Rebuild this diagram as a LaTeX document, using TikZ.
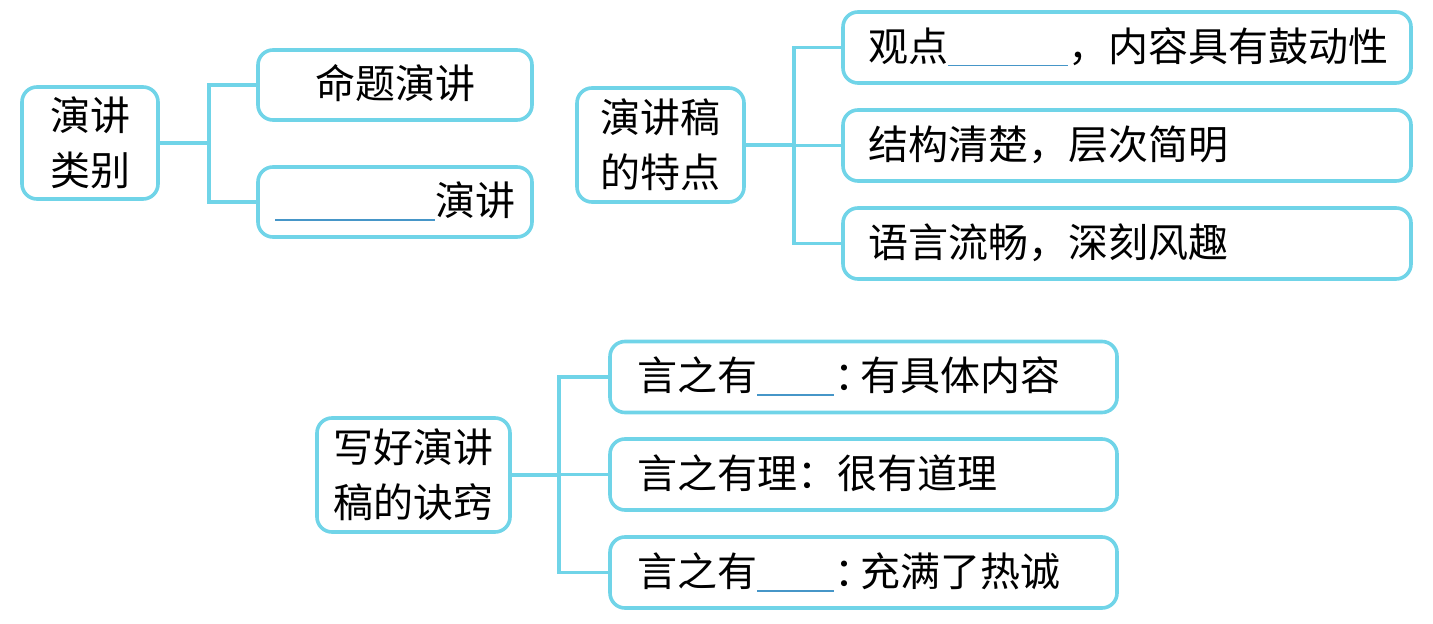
\documentclass[tikz,border=0pt]{standalone}
\usepackage{fontspec}
\newfontfamily\cjk{Noto Sans CJK SC}
\definecolor{boxcyan}{RGB}{112,212,232}
\definecolor{blankblue}{RGB}{70,150,200}
\newcommand{\blank}[1]{\raisebox{-2.5pt}{\textcolor{blankblue}{\rule{#1}{0.9pt}}}}
\newcommand{\halfcolon}{\makebox[13pt][l]{：}}
\begin{document}
\begin{tikzpicture}[x=0.5pt, y=-0.5pt,
    font=\cjk\fontsize{20pt}{27.5pt}\selectfont,
    box/.style={draw=boxcyan, line width=1.8pt, rounded corners=7.5pt},
    root/.style={box, align=center, inner sep=0pt},
    mid/.style={box, align=center, inner sep=0pt, minimum width=137pt, minimum height=35pt,
        text height=16pt, text depth=2pt},
    leaf/.style={box, align=left, inner xsep=#1, inner ysep=0pt, minimum height=35.5pt,
        text height=16pt, text depth=2pt},
    branch/.style={draw=boxcyan, line width=1.8pt}]
    \useasboundingbox (0,0) rectangle (1433,624);
    % 演讲类别
    \node[root, minimum width=68pt, minimum height=56pt] (a) at (90,143) {演讲\\类别};
    \node[mid] (b1) at (395,85) {命题演讲};
    \node[mid] (b2) at (395,202) {\blank{80pt}演讲};
    \coordinate (ja) at (209,0);
    \foreach \b in {b1,b2}
        \draw[branch] (a.east) -- (a.east -| ja) |- (\b.west);
    % 演讲稿的特点
    \node[root, minimum width=83.5pt, minimum height=57pt] (c) at (660.5,145) {演讲稿\\的特点};
    \node[leaf=12.5pt, text width=259pt] (d1) at (1127,47.5) {观点\blank{60pt}，内容具有鼓动性};
    \node[leaf=12.5pt, text width=259pt] (d2) at (1127,145.5) {结构清楚，层次简明};
    \node[leaf=12.5pt, text width=259pt] (d3) at (1127,243.5) {语言流畅，深刻风趣};
    \coordinate (jc) at (794,0);
    \foreach \d in {d1,d2,d3}
        \draw[branch] (c.east) -- (c.east -| jc) |- (\d.west);
    % 写好演讲稿的诀窍
    \node[root, minimum width=96.5pt, minimum height=57pt] (e) at (413.5,475) {写好演讲\\稿的诀窍};
    \node[leaf=13.5pt, text width=226.5pt] (f1) at (863.5,377) {言之有\blank{38.5pt}\halfcolon 有具体内容};
    \node[leaf=13.5pt, text width=226.5pt] (f2) at (863.5,474.5) {言之有理：很有道理};
    \node[leaf=13.5pt, text width=226.5pt] (f3) at (863.5,572.5) {言之有\blank{38.5pt}\halfcolon 充满了热诚};
    \coordinate (je) at (559,0);
    \foreach \f in {f1,f2,f3}
        \draw[branch] (e.east) -- (e.east -| je) |- (\f.west);
\end{tikzpicture}
\end{document}
